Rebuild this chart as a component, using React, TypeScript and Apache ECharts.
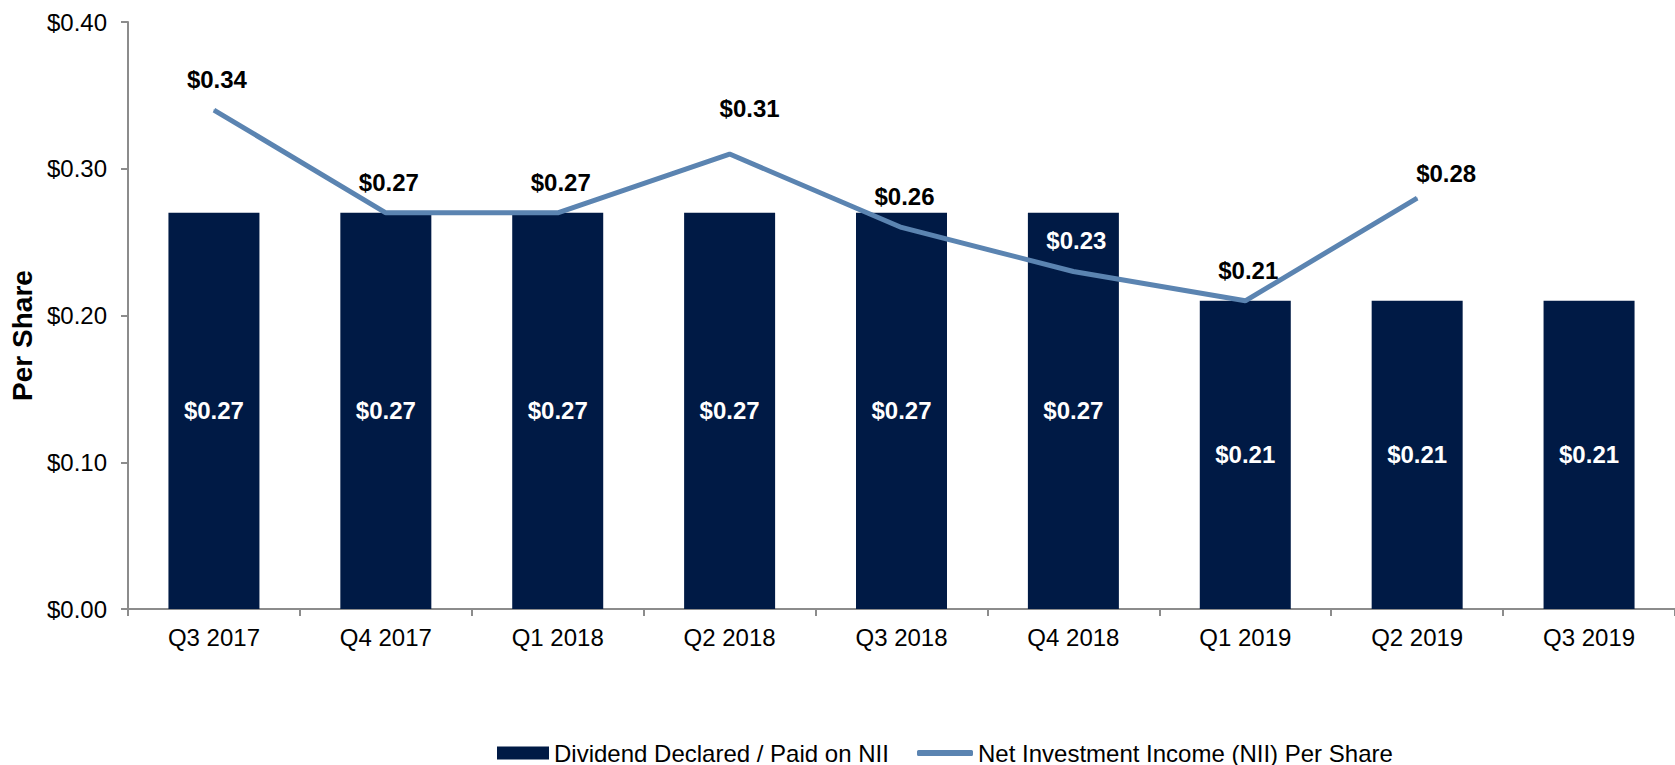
import React, { useEffect, useRef } from "react";
import * as echarts from "echarts";

const categories = ["Q3 2017", "Q4 2017", "Q1 2018", "Q2 2018", "Q3 2018", "Q4 2018", "Q1 2019", "Q2 2019", "Q3 2019"];
const dividend = [0.27, 0.27, 0.27, 0.27, 0.27, 0.27, 0.21, 0.21, 0.21];
const nii: (number | null)[] = [0.34, 0.27, 0.27, 0.31, 0.26, 0.23, 0.21, 0.28, null];
const barName = "Dividend Declared / Paid on NII";
const lineName = "Net Investment Income (NII) Per Share";

const FONT = "'Liberation Sans', Arial, sans-serif";
const NAVY = "#001a45";
const LINE = "#5b84b1";
const AXIS = "#8c8c8c";
const FS = 24;

const lineLabelOverrides: Record<number, any> = {
  3: { offset: [20, -15] },
  5: { color: "#ffffff" },
  7: { offset: [29, 6] },
};

export default function App() {
  const ref = useRef<HTMLDivElement>(null);
  useEffect(() => {
    if (!ref.current) return;
    const chart = echarts.init(ref.current, undefined, { renderer: "svg" });
    const fmt = (v: number) => "$" + v.toFixed(2);
    chart.setOption({
      animation: false,
      grid: { left: 128, top: 22, bottom: 156, right: -7, containLabel: false },
      legend: [
        {
          data: [barName],
          left: 497,
          top: 741,
          padding: 0,
          itemWidth: 52,
          itemHeight: 13,
          icon: "rect",
          textStyle: { fontFamily: FONT, fontSize: FS, color: "#000" },
        },
        {
          data: [lineName],
          left: 917,
          top: 741,
          padding: 0,
          itemWidth: 56,
          itemHeight: 6,
          icon: "roundRect",
          textStyle: { fontFamily: FONT, fontSize: FS, color: "#000" },
        },
      ],
      xAxis: {
        type: "category",
        data: categories,
        boundaryGap: true,
        axisLine: { show: true, lineStyle: { color: AXIS, width: 2 } },
        axisTick: { show: true, length: 7, lineStyle: { color: AXIS, width: 2 } },
        axisLabel: { fontFamily: FONT, fontSize: FS, color: "#000", margin: 16 },
        splitLine: { show: false },
      },
      yAxis: {
        type: "value",
        min: 0,
        max: 0.4,
        interval: 0.1,
        name: "Per Share",
        nameLocation: "middle",
        nameGap: 88,
        nameTextStyle: { fontFamily: FONT, fontSize: 28, fontWeight: "bold", color: "#000", padding: [0, 40, 0, 0] },
        axisLine: { show: true, lineStyle: { color: AXIS, width: 2 } },
        axisTick: { show: true, length: 7, lineStyle: { color: AXIS, width: 2 } },
        axisLabel: { fontFamily: FONT, fontSize: FS, color: "#000", margin: 21, formatter: fmt },
        splitLine: { show: false },
      },
      series: [
        {
          name: barName,
          type: "bar",
          data: dividend,
          barWidth: 91,
          itemStyle: { color: NAVY },
          label: {
            show: true,
            position: "inside",
            fontFamily: FONT,
            fontSize: FS,
            fontWeight: "bold",
            color: "#fff",
            formatter: (p: any) => fmt(p.value),
          },
        },
        {
          name: lineName,
          type: "line",
          data: nii.map((v, i) =>
            lineLabelOverrides[i] ? { value: v, label: lineLabelOverrides[i] } : v
          ),
          color: LINE,
          symbol: "circle",
          symbolSize: 1,
          showSymbol: true,
          itemStyle: { color: LINE },
          lineStyle: { color: LINE, width: 5 },
          z: 5,
          label: {
            show: true,
            position: "top",
            distance: 18,
            offset: [3, 0],
            fontFamily: FONT,
            fontSize: FS,
            fontWeight: "bold",
            color: "#000",
            formatter: (p: any) => (p.value == null ? "" : fmt(p.value)),
          },
        },
      ],
    });
    return () => chart.dispose();
  }, []);
  return (
    <div
      ref={ref}
      style={{ position: "fixed", left: 0, top: 0, width: 1675, height: 765, background: "#fff" }}
    />
  );
}
